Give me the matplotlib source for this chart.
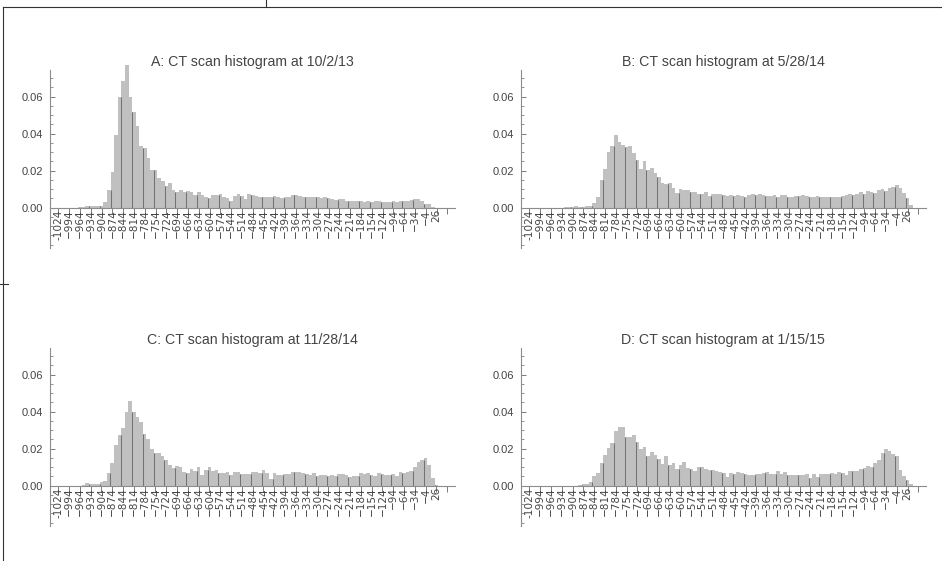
import numpy as np
import matplotlib
matplotlib.use('Agg')
import matplotlib.pyplot as plt
from matplotlib.lines import Line2D
from matplotlib.ticker import FixedLocator, MultipleLocator

plt.rcParams['font.family'] = ['Liberation Sans', 'DejaVu Sans']

titles = ["A: CT scan histogram at 10/2/13",
          "B: CT scan histogram at 5/28/14",
          "C: CT scan histogram at 11/28/14",
          "D: CT scan histogram at 1/15/15"]

# Bin centres start at -1024 HU, 10 HU per bin
first_center = -1024
bin_width = 10

hist_a = [0, 0, 0, 0, 0, 0, 0.0004, 0.0005, 0.0009, 0.001, 0.0008, 0.001, 0.0011, 0.003,
          0.0095, 0.0195, 0.039, 0.060, 0.0685, 0.077, 0.060, 0.0515, 0.044, 0.0333,
          0.032, 0.027, 0.0204, 0.0204, 0.016, 0.0144, 0.0117, 0.0132, 0.0095, 0.0083,
          0.0095, 0.0083, 0.009, 0.0083, 0.007, 0.0085, 0.0068, 0.006, 0.0054, 0.0067,
          0.007, 0.0074, 0.006, 0.0054, 0.0036, 0.0065, 0.0074, 0.0065, 0.0047, 0.0074,
          0.0068, 0.0062, 0.0058, 0.006, 0.0058, 0.0055, 0.0062, 0.0058, 0.0052, 0.006,
          0.0055, 0.0068, 0.007, 0.0062, 0.0058, 0.0056, 0.0056, 0.0058, 0.0058, 0.0052,
          0.0055, 0.005, 0.0047, 0.0042, 0.0047, 0.0045, 0.0038, 0.0036, 0.0034, 0.0038,
          0.0036, 0.0032, 0.0034, 0.003, 0.0036, 0.0034, 0.003, 0.0032, 0.0029, 0.0034,
          0.0032, 0.0034, 0.0035, 0.0038, 0.0042, 0.0047, 0.0044, 0.0035, 0.0022, 0.0018,
          0.0005, 0, 0]

hist_b = [0, 0, 0, 0, 0, 0, 0, 0, 0, 0, 0.0003, 0.0005, 0.0005, 0.0006, 0.0005, 0.0004,
          0.0006, 0.001, 0.0025, 0.006, 0.015, 0.021, 0.030, 0.0333, 0.0393, 0.0357,
          0.034, 0.0328, 0.0335, 0.0297, 0.026, 0.021, 0.0253, 0.0206, 0.0213, 0.0187,
          0.0166, 0.0135, 0.0128, 0.0132, 0.0107, 0.0079, 0.0099, 0.0093, 0.0095, 0.0086,
          0.0086, 0.0075, 0.0075, 0.0083, 0.0063, 0.0072, 0.0074, 0.0074, 0.0067, 0.0063,
          0.0068, 0.0062, 0.0067, 0.0063, 0.0058, 0.0068, 0.0076, 0.0068, 0.0072, 0.007,
          0.0063, 0.0065, 0.007, 0.0055, 0.0067, 0.0067, 0.006, 0.006, 0.0065, 0.0063,
          0.0067, 0.0063, 0.006, 0.0056, 0.0061, 0.006, 0.0056, 0.006, 0.0058, 0.006,
          0.006, 0.0065, 0.0068, 0.0076, 0.0068, 0.0076, 0.0083, 0.0072, 0.0088, 0.0085,
          0.0078, 0.0095, 0.0099, 0.0088, 0.0105, 0.0112, 0.0123, 0.0105, 0.008, 0.005,
          0.0015]

hist_c = [0, 0, 0, 0, 0, 0, 0, 0.0006, 0.0012, 0.001, 0.0009, 0.001, 0.0018, 0.0025,
          0.0068, 0.0125, 0.022, 0.0273, 0.031, 0.040, 0.0455, 0.040, 0.0369, 0.0345,
          0.0278, 0.025, 0.0196, 0.0175, 0.0178, 0.0163, 0.0139, 0.0112, 0.0096, 0.0105,
          0.0101, 0.0072, 0.0068, 0.0092, 0.0079, 0.0099, 0.0058, 0.0083, 0.0099, 0.0079,
          0.0083, 0.0068, 0.0068, 0.0072, 0.0058, 0.0072, 0.0072, 0.0065, 0.0065, 0.0062,
          0.0072, 0.0072, 0.0068, 0.0085, 0.0068, 0.0036, 0.0068, 0.0056, 0.0058, 0.0063,
          0.0065, 0.0072, 0.0074, 0.0072, 0.0068, 0.0063, 0.0058, 0.0068, 0.0052, 0.0056,
          0.0058, 0.0054, 0.0058, 0.0054, 0.0063, 0.0065, 0.0058, 0.0045, 0.0054, 0.0052,
          0.0068, 0.0063, 0.0068, 0.0058, 0.0052, 0.0068, 0.0063, 0.0058, 0.0056, 0.0063,
          0.0054, 0.0072, 0.0068, 0.0076, 0.0077, 0.0099, 0.0128, 0.014, 0.0151, 0.011,
          0.004, 0.0005, 0]

hist_d = [0, 0, 0, 0, 0, 0, 0, 0, 0, 0, 0, 0, 0, 0, 0.0003, 0.0008, 0.0011, 0.0018,
          0.005, 0.0068, 0.0121, 0.0164, 0.0203, 0.023, 0.0295, 0.0315, 0.0315, 0.0263,
          0.0263, 0.0273, 0.0235, 0.0199, 0.0209, 0.016, 0.0182, 0.0164, 0.0146, 0.0117,
          0.016, 0.0112, 0.0121, 0.009, 0.0112, 0.0126, 0.0097, 0.0092, 0.0081, 0.0099,
          0.0099, 0.0088, 0.0086, 0.0083, 0.0079, 0.0072, 0.0067, 0.0049, 0.0067, 0.0063,
          0.0074, 0.007, 0.0063, 0.0058, 0.0058, 0.0061, 0.0061, 0.0067, 0.0072, 0.0063,
          0.0063, 0.0079, 0.0063, 0.0072, 0.0056, 0.0056, 0.0058, 0.0058, 0.0056, 0.0061,
          0.0043, 0.0061, 0.0049, 0.0061, 0.0061, 0.0065, 0.0067, 0.0063, 0.0072, 0.007,
          0.006, 0.0077, 0.0081, 0.0079, 0.0088, 0.0094, 0.0106, 0.0099, 0.0121, 0.0139,
          0.0175, 0.0198, 0.0189, 0.0171, 0.016, 0.0083, 0.0052, 0.0029, 0.0009]

x_tick_values = [-1024, -994, -964, -934, -904, -874, -844, -814, -784, -754, -724,
                 -694, -664, -634, -604, -574, -544, -514, -484, -454, -424, -394,
                 -364, -334, -304, -274, -244, -214, -184, -154, -124, -94, -64, -34,
                 -4, 26, 56]
x_tick_labels = ["-1024", "\u2212994", "\u2212964", "\u2212934", "\u2212904", "\u2212874",
                 "\u2212844", "\u2212814", "\u2212784", "\u2212754", "\u2212724", "\u2212694",
                 "\u2212664", "\u2212634", "\u2212604", "\u2212574", "\u2212544", "\u2212514",
                 "\u2212484", "\u2212454", "\u2212424", "\u2212394", "\u2212364", "\u2212334",
                 "\u2212304", "\u2212274", "\u2212244", "\u2212214", "\u2212184", "\u2212154",
                 "\u2212124", "\u221294", "\u221264", "\u221234", "\u22124", "26", ""]
y_tick_values = [0.0, 0.02, 0.04, 0.06]
y_tick_labels = ["0.00", "0.02", "0.04", "0.06"]

W, H = 942, 561
fig = plt.figure(figsize=(W / 100, H / 100), dpi=100)

# axes rectangles in pixels: left, top, right, bottom
rects_px = [(49.7, 70.0, 455.0, 248.3),
            (520.7, 70.0, 926.0, 248.3),
            (49.5, 348.0, 454.8, 526.4),
            (520.7, 348.0, 926.0, 526.4)]

bar_color = '#c0c0c0'
edge_dark = '#737373'
axis_color = '#8c8c8c'
text_color = '#444444'

for (l, t, r, b), vals, title in zip(rects_px, [hist_a, hist_b, hist_c, hist_d], titles):
    ax = fig.add_axes([l / W, 1 - b / H, (r - l) / W, (b - t) / H])
    vals = np.asarray(vals, dtype=float)
    centers = first_center + bin_width * np.arange(len(vals))
    ax.bar(centers, vals, width=bin_width, color=bar_color, linewidth=0,
           clip_on=False, zorder=2)
    # darker separators at every third bin edge
    idx = np.arange(0, len(vals), 3)
    prev = np.concatenate([[0.0], vals[:-1]])
    sep_h = np.minimum(prev[idx], vals[idx])
    ax.vlines(centers[idx] - bin_width / 2, 0, sep_h, color=edge_dark, lw=0.75, zorder=3)

    ax.set_xlim(-1048, 77)
    ax.set_ylim(-0.022, 0.0744)
    for s in ['top', 'right']:
        ax.spines[s].set_visible(False)
    ax.spines['bottom'].set_position(('data', 0))
    ax.spines['bottom'].set_color(axis_color)
    ax.spines['left'].set_color(axis_color)
    ax.spines['bottom'].set_linewidth(0.8)
    ax.spines['left'].set_linewidth(0.8)
    ax.spines['bottom'].set_zorder(4)

    ax.set_xticks(x_tick_values)
    ax.set_xticklabels(x_tick_labels, rotation=90, fontsize=7.6, color=text_color,
                       family='DejaVu Sans')
    ax.tick_params(axis='x', direction='out', length=4.5, width=0.6, color='#666666',
                   pad=-3.4)
    for lab in ax.get_xticklabels():
        lab.set_verticalalignment('top')
        lab.set_horizontalalignment('center')

    ax.yaxis.set_major_locator(FixedLocator(y_tick_values))
    ax.set_yticklabels(y_tick_labels, fontsize=8, color=text_color)
    ax.yaxis.set_minor_locator(MultipleLocator(0.005))
    ax.tick_params(axis='y', which='major', direction='in', length=3.5, width=0.6,
                   color='#666666', pad=4.6)
    ax.tick_params(axis='y', which='minor', direction='in', length=2, width=0.5,
                   color='#666666')
    ax.set_facecolor('none')
    ax.set_title(title, fontsize=10.2, color=text_color, pad=3)

# outer frame lines
fig.add_artist(Line2D([3.3 / W, 1.0], [1 - 7.3 / H, 1 - 7.3 / H], color='#333333',
                      lw=0.8, transform=fig.transFigure))
fig.add_artist(Line2D([3.3 / W, 3.3 / W], [0.0, 1 - 7.3 / H], color='#333333',
                      lw=0.8, transform=fig.transFigure))
fig.add_artist(Line2D([265.7 / W, 265.7 / W], [1.0, 1 - 7.3 / H], color='#333333',
                      lw=0.8, transform=fig.transFigure))
fig.add_artist(Line2D([0.0, 8.0 / W], [1 - 283.5 / H, 1 - 283.5 / H], color='#333333',
                      lw=0.8, transform=fig.transFigure))

fig.savefig('out.png', dpi=100)
